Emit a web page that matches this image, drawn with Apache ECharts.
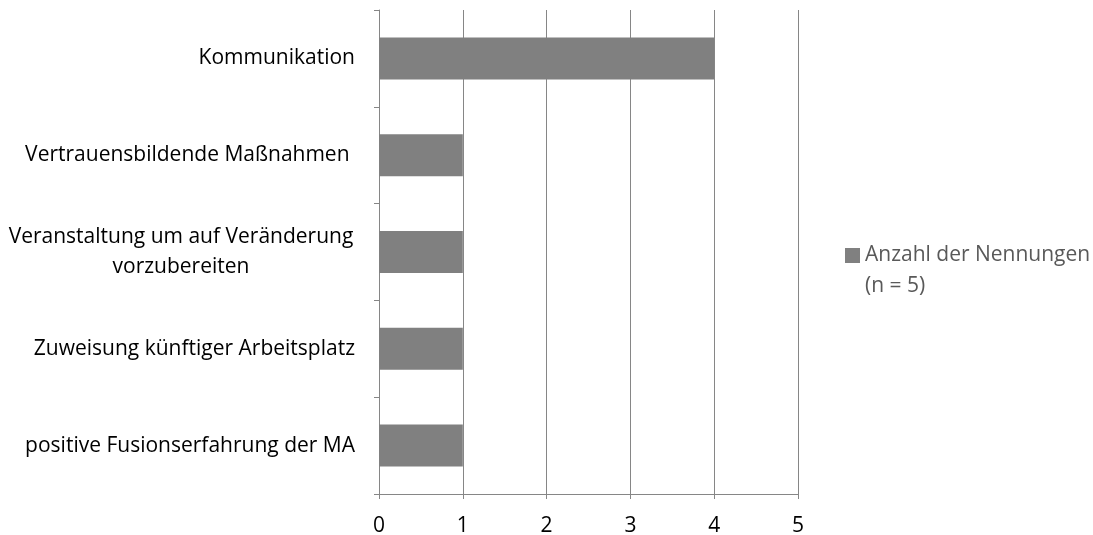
<!DOCTYPE html>
<html>
<head>
<meta charset="utf-8">
<script src="https://cdn.jsdelivr.net/npm/echarts@6/dist/echarts.min.js"></script>
<style>
html,body{margin:0;padding:0;background:#fff;}
#chart{width:1093px;height:535px;}
</style>
</head>
<body>
<div id="chart"></div>
<script>
const categories = [
  'Kommunikation',
  'Vertrauensbildende Maßnahmen ',
  'Veranstaltung um auf Veränderung\nvorzubereiten',
  'Zuweisung künftiger Arbeitsplatz',
  'positive Fusionserfahrung der MA'
];
const counts = [4, 1, 1, 1, 1];
const seriesName = 'Anzahl der Nennungen\n(n = 5)';
const xMin = 0, xMax = 5, xStep = 1;

const FONT = '"Open Sans", "Noto Sans", sans-serif';
const GRID_COLOR = '#868686';

const chart = echarts.init(document.getElementById('chart'), null, {renderer: 'canvas'});
chart.setOption({
  animation: false,
  backgroundColor: '#ffffff',
  grid: {left: 379, right: 295, top: 10, bottom: 41, containLabel: false, outerBoundsMode: 'none'},
  legend: {
    show: true,
    orient: 'vertical',
    left: 840,
    top: 204,
    padding: 5,
    icon: 'rect',
    itemWidth: 15,
    itemHeight: 15,
    itemGap: 5,
    selectedMode: false,
    formatter: function (name) { return ' \n' + name; },
    textStyle: {color: '#595959', fontSize: 21, fontFamily: FONT, lineHeight: 31},
    data: [seriesName]
  },
  xAxis: {
    type: 'value',
    min: xMin, max: xMax, interval: xStep,
    axisLine: {show: true, lineStyle: {color: GRID_COLOR, width: 1}},
    axisTick: {show: true, length: 5, lineStyle: {color: GRID_COLOR}},
    splitLine: {show: true, lineStyle: {color: GRID_COLOR, width: 1}},
    axisLabel: {color: '#000', fontSize: 21, fontFamily: FONT, margin: 22}
  },
  yAxis: {
    type: 'category',
    inverse: true,
    data: categories,
    axisLine: {show: true, lineStyle: {color: GRID_COLOR, width: 1}},
    axisTick: {show: true, length: 5, alignWithLabel: false, lineStyle: {color: GRID_COLOR}},
    splitLine: {show: false},
    axisLabel: {
      color: '#000', fontSize: 21, fontFamily: FONT, margin: 24, lineHeight: 30,
      formatter: function (v) {
        if (v.indexOf('\n') >= 0) {
          return v.split('\n').map(function (s) { return '{c|' + s + '}'; }).join('\n');
        }
        return v;
      },
      rich: {
        c: {width: 348, align: 'center', fontSize: 21, fontFamily: FONT, lineHeight: 30, color: '#000'}
      }
    }
  },
  series: [{
    name: seriesName,
    type: 'bar',
    data: counts,
    barWidth: 42,
    itemStyle: {color: '#808080'}
  }]
});
</script>
</body>
</html>
